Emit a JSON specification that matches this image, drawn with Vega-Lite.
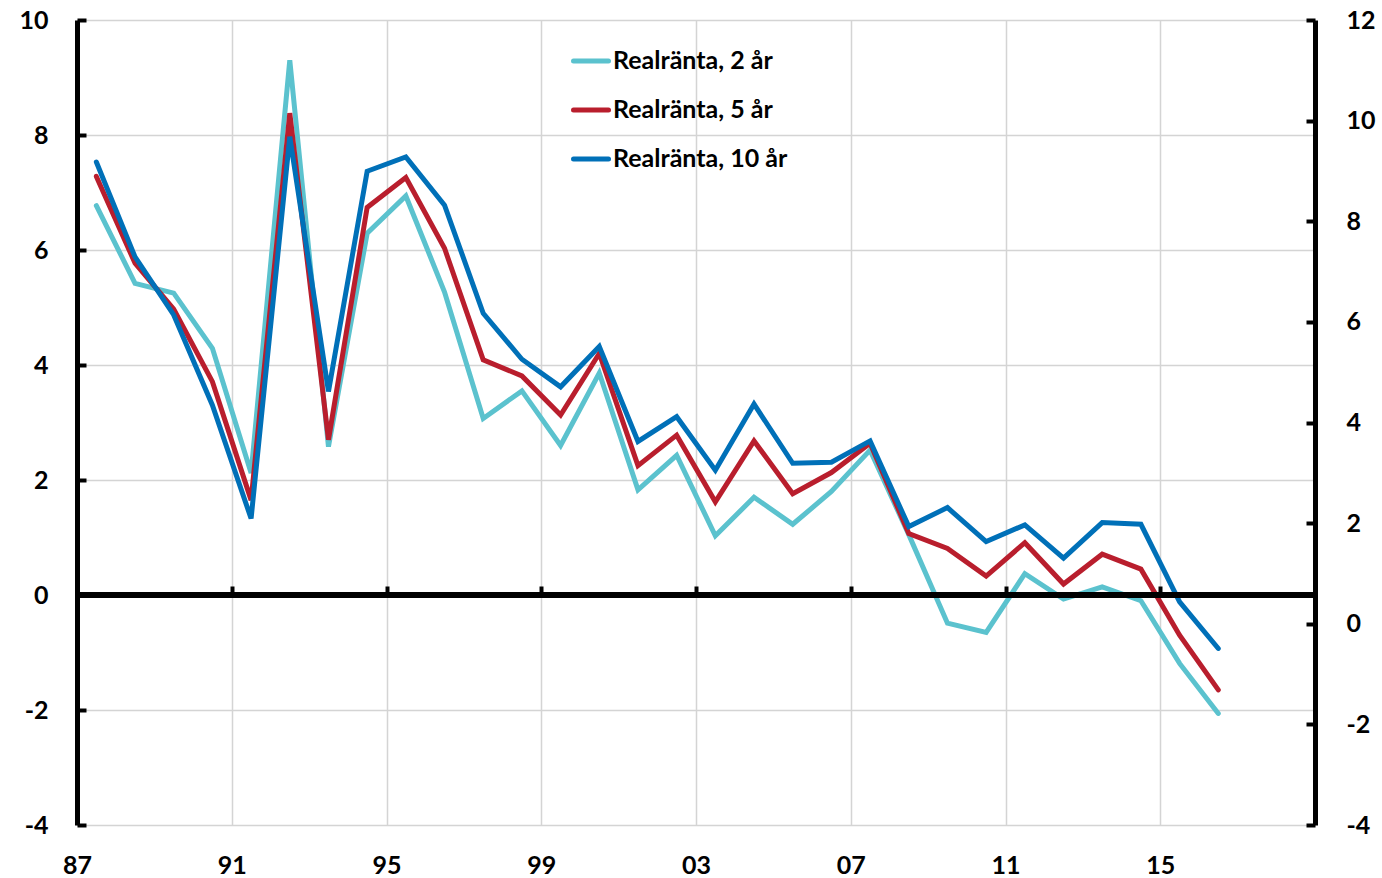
{
  "$schema": "https://vega.github.io/schema/vega-lite/v6.json",
  "width": 1238,
  "height": 805,
  "autosize": {"type": "none"},
  "padding": {"left": 77, "top": 20, "right": 67, "bottom": 53},
  "background": "white",
  "config": {
    "view": {"stroke": null},
    "font": "Lato",
    "axis": {"labelFont": "Lato", "labelFontWeight": "bold", "labelFontSize": 25, "labelColor": "black", "title": null}
  },
  "datasets": {
    "rates": [
      {"year": 1987.5, "r2": 6.77, "r5": 7.28, "r10": 7.53},
      {"year": 1988.5, "r2": 5.42, "r5": 5.77, "r10": 5.88},
      {"year": 1989.5, "r2": 5.25, "r5": 4.97, "r10": 4.87},
      {"year": 1990.5, "r2": 4.29, "r5": 3.71, "r10": 3.30},
      {"year": 1991.5, "r2": 2.12, "r5": 1.65, "r10": 1.33},
      {"year": 1992.5, "r2": 9.30, "r5": 8.38, "r10": 7.97},
      {"year": 1993.5, "r2": 2.58, "r5": 2.70, "r10": 3.54},
      {"year": 1994.5, "r2": 6.29, "r5": 6.74, "r10": 7.37},
      {"year": 1995.5, "r2": 6.94, "r5": 7.26, "r10": 7.62},
      {"year": 1996.5, "r2": 5.27, "r5": 6.03, "r10": 6.78},
      {"year": 1997.5, "r2": 3.07, "r5": 4.09, "r10": 4.90},
      {"year": 1998.5, "r2": 3.55, "r5": 3.81, "r10": 4.10},
      {"year": 1999.5, "r2": 2.60, "r5": 3.13, "r10": 3.62},
      {"year": 2000.5, "r2": 3.86, "r5": 4.20, "r10": 4.32},
      {"year": 2001.5, "r2": 1.83, "r5": 2.25, "r10": 2.67},
      {"year": 2002.5, "r2": 2.43, "r5": 2.78, "r10": 3.10},
      {"year": 2003.5, "r2": 1.03, "r5": 1.62, "r10": 2.17},
      {"year": 2004.5, "r2": 1.70, "r5": 2.68, "r10": 3.32},
      {"year": 2005.5, "r2": 1.23, "r5": 1.76, "r10": 2.29},
      {"year": 2006.5, "r2": 1.80, "r5": 2.13, "r10": 2.31},
      {"year": 2007.5, "r2": 2.52, "r5": 2.64, "r10": 2.68},
      {"year": 2008.5, "r2": 1.05, "r5": 1.07, "r10": 1.19},
      {"year": 2009.5, "r2": -0.49, "r5": 0.81, "r10": 1.52},
      {"year": 2010.5, "r2": -0.65, "r5": 0.33, "r10": 0.93},
      {"year": 2011.5, "r2": 0.37, "r5": 0.91, "r10": 1.22},
      {"year": 2012.5, "r2": -0.07, "r5": 0.19, "r10": 0.64},
      {"year": 2013.5, "r2": 0.14, "r5": 0.71, "r10": 1.26},
      {"year": 2014.5, "r2": -0.10, "r5": 0.45, "r10": 1.23},
      {"year": 2015.5, "r2": -1.19, "r5": -0.70, "r10": -0.12},
      {"year": 2016.5, "r2": -2.06, "r5": -1.65, "r10": -0.93}
    ],
    "rightaxis": [{"v": -4}, {"v": 12}]
  },
  "layer": [
    {
      "data": {"name": "rates"},
      "resolve": {"axis": {"x": "independent"}},
      "layer": [
        {
          "mark": {"type": "line", "strokeWidth": 5, "strokeCap": "round", "strokeJoin": "miter"},
          "encoding": {
            "x": {
              "field": "year", "type": "quantitative",
              "scale": {"domain": [1987, 2019], "nice": false, "zero": false},
              "axis": {
                "orient": "bottom", "values": [1987, 1991, 1995, 1999, 2003, 2007, 2011, 2015],
                "labelExpr": "slice(toString(datum.value), 2)",
                "labelFlush": false, "labelOverlap": false,
                "domain": false, "ticks": false, "labelPadding": 28,
                "grid": true, "gridColor": "#D4D4D4", "gridWidth": 1.5
              }
            },
            "y": {
              "field": "r2", "type": "quantitative",
              "scale": {"domain": [-4, 10], "nice": false, "zero": false},
              "axis": {
                "orient": "left", "values": [-4, -2, 0, 2, 4, 6, 8, 10],
                "labelExpr": "'' + datum.value",
                "labelFlush": false,
                "domain": true, "domainColor": "black", "domainWidth": 5,
                "ticks": true, "tickColor": "black", "tickWidth": 4, "tickSize": -9,
                "labelPadding": 38,
                "grid": true, "gridColor": "#D4D4D4", "gridWidth": 1.5
              }
            },
            "color": {
              "datum": "Realränta, 2 år",
              "scale": {"domain": ["Realränta, 2 år", "Realränta, 5 år", "Realränta, 10 år"], "range": ["#5BC2CE", "#B91E2D", "#0070B8"]},
              "legend": {
                "title": null, "orient": "none", "legendX": 494, "legendY": 21,
                "symbolType": "stroke", "symbolSize": 1225, "symbolStrokeWidth": 5,
                "labelFont": "Lato", "labelFontWeight": "bold", "labelFontSize": 25, "labelColor": "black",
                "labelOffset": 2, "rowPadding": 16, "padding": 0, "labelLimit": 0,
                "encode": {"symbols": {"update": {"strokeCap": {"value": "round"}}}}
              }
            }
          }
        },
        {
          "mark": {"type": "line", "strokeWidth": 5, "strokeCap": "round", "strokeJoin": "miter"},
          "encoding": {
            "x": {"field": "year", "type": "quantitative", "axis": null},
            "y": {"field": "r5", "type": "quantitative"},
            "color": {"datum": "Realränta, 5 år"}
          }
        },
        {
          "mark": {"type": "line", "strokeWidth": 5, "strokeCap": "round", "strokeJoin": "miter"},
          "encoding": {
            "x": {"field": "year", "type": "quantitative", "axis": null},
            "y": {"field": "r10", "type": "quantitative"},
            "color": {"datum": "Realränta, 10 år"}
          }
        },
        {
          "mark": {"type": "rule", "color": "black", "strokeWidth": 5},
          "encoding": {"y": {"datum": 0}}
        },
        {
          "mark": {"type": "point", "opacity": 0},
          "encoding": {
            "x": {
              "field": "year", "type": "quantitative",
              "axis": {
                "orient": "top", "offset": -575, "values": [1991, 1995, 1999, 2003, 2007, 2011, 2015],
                "labels": false, "domain": false, "grid": false,
                "ticks": true, "tickColor": "black", "tickWidth": 4, "tickSize": 9
              }
            }
          }
        }
      ]
    },
    {
      "data": {"name": "rightaxis"},
      "mark": {"type": "rule", "opacity": 0},
      "encoding": {
        "y": {
          "field": "v", "type": "quantitative",
          "scale": {"domain": [-4, 12], "nice": false, "zero": false},
          "axis": {
            "orient": "right", "values": [-4, -2, 0, 2, 4, 6, 8, 10, 12],
            "labelExpr": "'' + datum.value",
            "labelFlush": false,
            "domain": true, "domainColor": "black", "domainWidth": 5,
            "ticks": true, "tickColor": "black", "tickWidth": 4, "tickSize": -9,
            "labelPadding": 40, "grid": false
          }
        }
      }
    }
  ],
  "resolve": {"scale": {"y": "independent"}}
}
